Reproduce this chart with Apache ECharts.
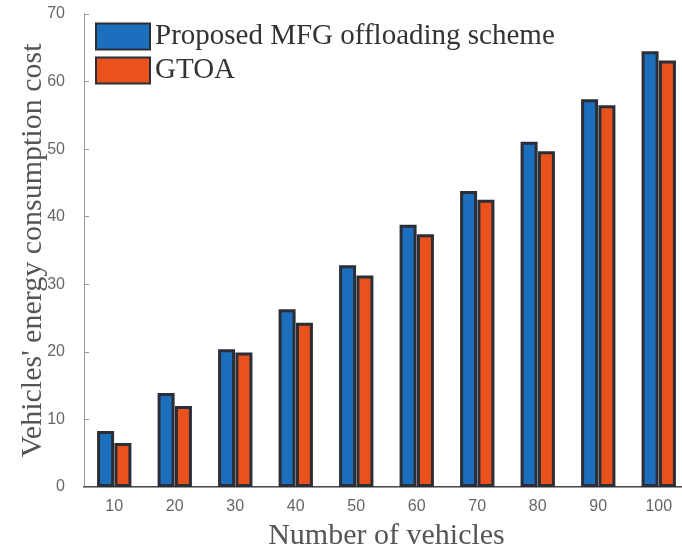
<!DOCTYPE html>
<html>
<head>
<meta charset="utf-8">
<title>Vehicles' energy consumption cost</title>
<script src="https://cdn.jsdelivr.net/npm/echarts@6/dist/echarts.min.js"></script>
<style>
  html, body { margin: 0; padding: 0; background: #fff; }
  #chart { width: 682px; height: 550px; }
</style>
</head>
<body>
<div id="chart"></div>
<script>
// Number of vehicles on the x axis
const vehicleCounts = ['10', '20', '30', '40', '50', '60', '70', '80', '90', '100'];
// Energy consumption cost per scheme
const mfgCost = [8.3, 13.9, 20.4, 26.3, 32.8, 38.8, 43.8, 51.1, 57.4, 64.5];
const gtoaCost = [6.5, 12.0, 19.9, 24.3, 31.3, 37.4, 42.5, 49.7, 56.5, 63.1];
const seriesNames = ['Proposed MFG offloading scheme', 'GTOA'];
const yTicks = { min: 0, max: 70, interval: 10 };

const serif = '"Liberation Serif", "Times New Roman", serif';
const sans = '"Liberation Sans", Arial, sans-serif';
const edge = '#2b2e36';

const chart = echarts.init(document.getElementById('chart'), null, { renderer: 'canvas' });

const barStyle = (color) => ({ color: color, borderColor: edge, borderWidth: 3 });

chart.setOption({
  animation: false,
  backgroundColor: '#ffffff',
  grid: { left: 84, top: 14, width: 605, bottom: 63, containLabel: false, outerBoundsMode: 'none' },
  legend: {
    orient: 'vertical',
    left: 95,
    top: 22,
    padding: 0,
    icon: 'rect',
    itemWidth: 54,
    itemHeight: 26,
    itemGap: 5,
    textStyle: { fontFamily: serif, fontSize: 29, color: '#333', lineHeight: 26 },
    data: seriesNames
  },
  xAxis: [
    {
      type: 'category',
      data: vehicleCounts,
      position: 'bottom',
      axisLine: { lineStyle: { color: '#4a4a4a', width: 2 } },
      axisTick: { inside: true, alignWithLabel: true, length: 5, lineStyle: { color: '#999' } },
      axisLabel: { margin: 12, fontFamily: sans, fontSize: 16, color: '#666' },
      name: 'Number of vehicles',
      nameLocation: 'middle',
      nameGap: 34,
      nameMoveOverlap: false,
      nameTextStyle: { fontFamily: serif, fontSize: 30, color: '#555' }
    },
    {
      type: 'category',
      data: vehicleCounts,
      position: 'top',
      axisLine: { lineStyle: { color: '#999', width: 1 } },
      axisTick: { inside: true, alignWithLabel: true, length: 5, lineStyle: { color: '#999' } },
      axisLabel: { show: false }
    }
  ],
  yAxis: [
    {
      type: 'value',
      position: 'left',
      min: yTicks.min,
      max: yTicks.max,
      interval: yTicks.interval,
      splitLine: { show: false },
      axisLine: { show: true, lineStyle: { color: '#999', width: 1 } },
      axisTick: { show: true, inside: true, length: 5, lineStyle: { color: '#999' } },
      axisLabel: { margin: 19, fontFamily: sans, fontSize: 16, color: '#666' },
      name: "Vehicles' energy consumption cost",
      nameLocation: 'middle',
      nameRotate: 90,
      nameGap: 36,
      nameMoveOverlap: false,
      nameTextStyle: { fontFamily: serif, fontSize: 30, color: '#555' }
    },
    {
      type: 'value',
      position: 'right',
      min: yTicks.min,
      max: yTicks.max,
      interval: yTicks.interval,
      splitLine: { show: false },
      axisLine: { show: true, lineStyle: { color: '#999', width: 1 } },
      axisTick: { show: true, inside: true, length: 6, lineStyle: { color: '#999' } },
      axisLabel: { show: false }
    }
  ],
  series: [
    {
      name: seriesNames[0],
      type: 'bar',
      data: mfgCost,
      barWidth: 17,
      barGap: '2%',
      itemStyle: barStyle('#1b6fbd')
    },
    {
      name: seriesNames[1],
      type: 'bar',
      data: gtoaCost,
      barWidth: 17,
      barGap: '2%',
      itemStyle: barStyle('#e9511d')
    }
  ]
});
</script>
</body>
</html>
